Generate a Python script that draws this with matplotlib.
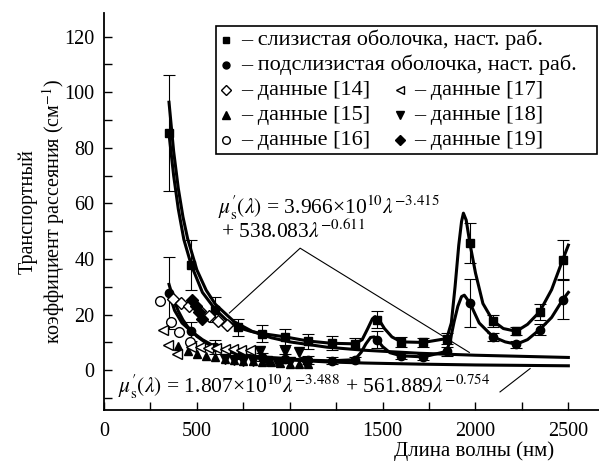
import matplotlib
matplotlib.use("Agg")
import matplotlib.pyplot as plt
from matplotlib.patches import Rectangle

plt.rcParams['font.family'] = ['Liberation Serif', 'DejaVu Serif']
plt.rcParams['mathtext.fontset'] = 'stix'
plt.rcParams['font.size'] = 14.5

# --- data ---
wl = [350, 470, 600, 720, 850, 975, 1100, 1225, 1350, 1470, 1600, 1720, 1845,
      1970, 2095, 2220, 2345, 2470]
mucosa = [85.3, 37.8, 21.8, 15.4, 13.2, 12.0, 10.5, 9.7, 9.5, 18.2, 10.2, 10.0,
          11.4, 45.6, 17.7, 14.0, 21.0, 39.8]
mucosa_err = [21, 9, 4.6, 3.2, 3, 3, 2.7, 2.5, 2, 3, 1.8, 1.5, 2, 7.2, 2, 1.5, 3, 7]
submucosa = [27.8, 14.0, 8.4, 6.0, 4.8, 4.2, 3.6, 3.4, 3.8, 11.0, 5.2, 4.8, 6.8,
             24.2, 12.0, 9.35, 14.6, 25.4]
submucosa_err = [13, 3.5, 2.5, 2, 1.5, 1.5, 1.5, 1.2, 1, 3, 1, 1, 1.5, 8.5, 1.5,
                 1.2, 2, 7]

muc_curve_x = [350, 375, 400, 430, 470, 530, 600, 660, 720, 790, 850, 975, 1100,
               1225, 1350, 1390, 1420, 1445, 1460, 1480, 1510, 1550, 1600, 1720,
               1845, 1870, 1890, 1910, 1925, 1935, 1950, 1970, 2000, 2040, 2095,
               2150, 2220, 2280, 2345, 2410, 2470, 2500]
muc_curve_y = [85, 70, 58, 47, 37.8, 28, 21.8, 18, 15.4, 14, 13.2, 12, 10.5,
               9.7, 9.5, 11, 15, 18.5, 19.3, 18.2, 15, 12, 10.2, 10.0,
               11.4, 17, 30, 45, 53.5, 56.5, 54, 45.6, 35, 24, 17.7,
               15, 14.0, 16.5, 21, 29, 39.8, 45]
sub_curve_x = [350, 380, 420, 470, 530, 600, 660, 720, 790, 850, 975, 1100, 1225,
               1350, 1385, 1410, 1435, 1455, 1470, 1500, 1540, 1600, 1720, 1845,
               1865, 1885, 1905, 1925, 1940, 1970, 2020, 2095, 2160, 2220, 2280,
               2345, 2410, 2470, 2500]
sub_curve_y = [27.8, 21.5, 17, 14.0, 11, 8.4, 7.0, 6.0, 5.2, 4.8, 4.2, 3.6, 3.4,
               3.8, 6.5, 9.5, 11.8, 12.0, 11.0, 8.5, 6.3, 5.2, 4.8, 6.8,
               11, 17.5, 23, 26.5, 27, 24.2, 17, 12.0, 10.2, 9.35, 11,
               14.6, 19, 25.4, 28]

# power-law fits shown in the figure
fit_x = [350, 375, 400, 425, 450, 500, 550, 600, 700, 800, 900, 1000, 1200, 1400,
         1700, 2000, 2500]
fit_upper = [96.4, 78.7, 65.4, 55.2, 47.4, 36.1, 28.8, 23.7, 17.5, 13.9, 11.7,
             10.2, 8.3, 7.2, 6.1, 5.4, 4.6]
fit_lower = [30.9, 25.4, 21.3, 18.1, 15.7, 12.2, 9.8, 8.2, 6.2, 5.0, 4.2, 3.7,
             3.0, 2.6, 2.2, 1.9, 1.6]

# literature data
d14_x = [370, 415, 460, 515, 565, 615, 660]
d14_y = [25.5, 24.3, 23.0, 21.2, 19.5, 17.7, 16.1]
d15_x = [400, 450, 500, 550, 600, 650, 700, 750, 800, 850, 900, 950, 1000, 1050, 1100]
d15_y = [8.6, 7.0, 6.0, 5.3, 4.7, 4.2, 3.8, 3.5, 3.2, 3.0, 2.8, 2.6, 2.4, 2.3, 2.2]
d16_x = [300, 360, 405, 465]
d16_y = [24.9, 17.5, 13.6, 10.0]
d17_x = [320, 345, 392, 470, 515, 560, 605, 650, 695, 740, 785]
d17_y = [14.4, 9.0, 6.0, 8.4, 8.2, 8.0, 7.9, 7.8, 7.6, 7.4, 7.2]
d18_x = [650, 700, 750, 800, 840, 880, 930, 975, 1000, 1050, 1080]
d18_y = [3.9, 3.7, 3.5, 3.4, 7.0, 3.2, 3.1, 7.0, 3.0, 6.7, 2.9]
d19_x = [475, 495, 512, 530]
d19_y = [25.2, 23.2, 21.0, 18.6]

fig = plt.figure(figsize=(5.99, 4.63), dpi=100)
ax = fig.add_axes([104/599, 53/463, 495/599, 397/463])

lw = 2.2
ax.plot(fit_x, fit_upper, color='k', lw=lw, zorder=2)
ax.plot(fit_x, fit_lower, color='k', lw=lw, zorder=2)
ax.plot(muc_curve_x, muc_curve_y, color='k', lw=lw, zorder=2)
ax.plot(sub_curve_x, sub_curve_y, color='k', lw=lw, zorder=2)

ax.errorbar(wl, mucosa, yerr=mucosa_err, fmt='none', ecolor='k', elinewidth=0.8,
            capsize=4, capthick=0.8, zorder=3)
ax.errorbar(wl, submucosa, yerr=submucosa_err, fmt='none', ecolor='k', elinewidth=0.8,
            capsize=4, capthick=0.8, zorder=3)
ax.plot(wl, mucosa, 's', color='k', ms=6, ls='none', zorder=4)
ax.plot(wl, submucosa, 'o', color='k', ms=6, ls='none', zorder=4)

ax.plot(d14_x, d14_y, 'D', mfc='white', mec='k', mew=1, ms=6.5, ls='none', zorder=4)
ax.plot(d15_x, d15_y, '^', color='k', ms=6, ls='none', zorder=4)
ax.plot(d16_x, d16_y, 'o', mfc='white', mec='k', mew=1, ms=7, ls='none', zorder=4)
ax.plot(d17_x, d17_y, '<', mfc='white', mec='k', mew=1, ms=7, ls='none', zorder=4)
ax.plot(d18_x, d18_y, 'v', color='k', ms=6.5, ls='none', zorder=4)
ax.plot(d19_x, d19_y, 'D', color='k', ms=6.5, ls='none', zorder=4)

# formulas and pointer lines
mu = r"$\mu^{\prime}_{\mathrm{s}}(\lambda)$"
ax.text(615, 58.3, mu + r" = 3.966×10$^{10}$$\lambda^{-3.415}$",
        va='center', ha='left', fontsize=15.5)
ax.text(631, 49.8, r"+ 538.083$\lambda^{-0.611}$", va='center', ha='left', fontsize=15.5)
ax.plot([675, 1056, 1967], [20.6, 43.9, 6.4], color='k', lw=0.8, zorder=2)
ax.text(77, -5.8, mu + r" = 1.807×10$^{10}$$\lambda^{-3.488}$"
        r" + 561.889$\lambda^{-0.754}$", va='center', ha='left', fontsize=15.5)
ax.plot([2132, 2294], [-7.8, 0.6], color='k', lw=0.8, zorder=2)

# legend drawn by hand (two-column layout with spanning rows)
ax.add_patch(Rectangle((0.227, 0.645), 0.769, 0.322, transform=ax.transAxes,
                       fill=False, ec='k', lw=1.2, clip_on=False, zorder=5))
entries = [
    (0.247, 0.932, dict(marker='s', color='k', ms=5), "– слизистая оболочка, наст. раб."),
    (0.247, 0.869, dict(marker='o', color='k', ms=5), "– подслизистая оболочка, наст. раб."),
    (0.247, 0.806, dict(marker='D', mfc='white', mec='k', ms=5.5), "– данные [14]"),
    (0.247, 0.743, dict(marker='^', color='k', ms=5.5), "– данные [15]"),
    (0.247, 0.680, dict(marker='o', mfc='white', mec='k', ms=5.5), "– данные [16]"),
    (0.597, 0.806, dict(marker='<', mfc='white', mec='k', ms=5.5), "– данные [17]"),
    (0.597, 0.743, dict(marker='v', color='k', ms=5.5), "– данные [18]"),
    (0.597, 0.680, dict(marker='D', color='k', ms=5), "– данные [19]"),
]
for mx, my, mk, label in entries:
    ax.plot([mx], [my], ls='none', transform=ax.transAxes, clip_on=False, zorder=6, **mk)
    ax.text(mx + 0.03, my, label, transform=ax.transAxes, va='center', ha='left',
            fontsize=16, zorder=6)

ax.set_xlim(0, 2665)
ax.set_ylim(-14.3, 128.5)
ax.set_xticks([0, 500, 1000, 1500, 2000, 2500])
ax.set_xticks([250, 750, 1250, 1750, 2250], minor=True)
ax.set_yticks([0, 20, 40, 60, 80, 100, 120])
ax.set_yticks([-10, 10, 30, 50, 70, 90, 110], minor=True)
ax.tick_params(which='both', direction='in', length=6, width=1)
ax.tick_params(axis='y', pad=7)
ax.tick_params(axis='x', pad=9)
for s in ['top', 'right']:
    ax.spines[s].set_visible(False)
for s in ['left', 'bottom']:
    ax.spines[s].set_linewidth(1.3)

ax.set_xlabel("Длина волны (нм)", fontsize=15)
ax.xaxis.set_label_coords(0.748, -0.078)
ax.set_ylabel("Транспортный\nкоэффициент рассеяния (см$^{-1}$)", linespacing=1.1,
              fontsize=14.5)
ax.yaxis.set_label_coords(-0.075, 0.5)

fig.savefig("out.png", dpi=100)
